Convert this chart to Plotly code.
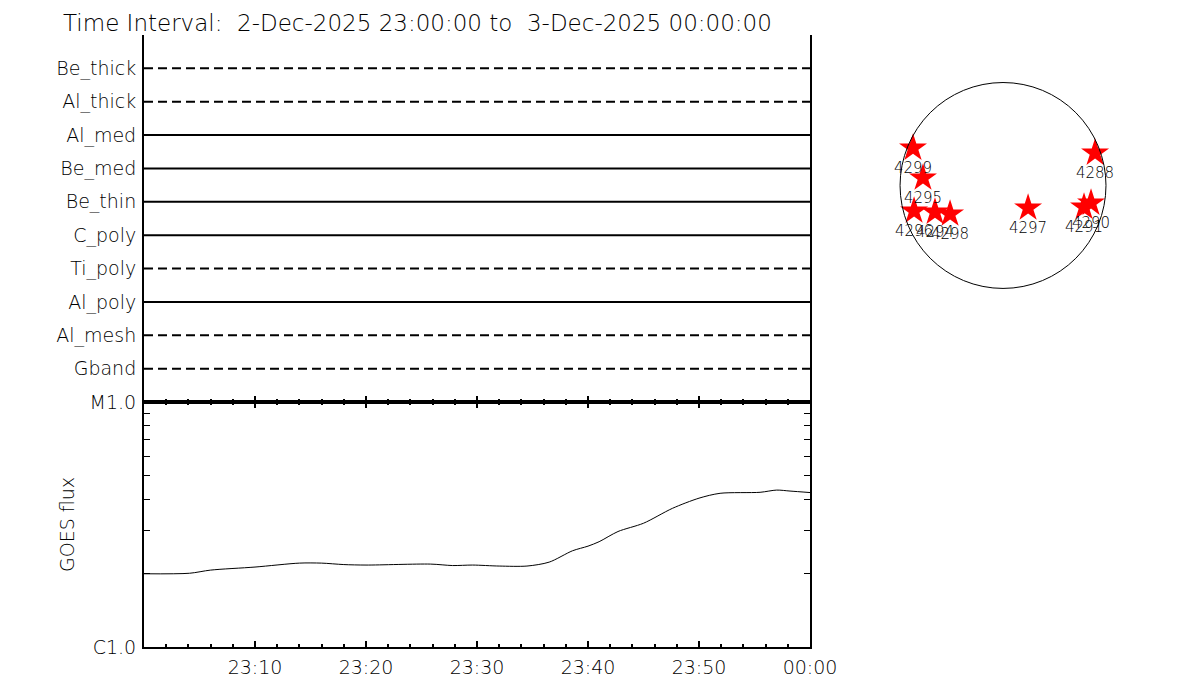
import plotly.graph_objects as go
import pandas as pd

# ---------------- data ----------------
title_text = "Time Interval:  2-Dec-2025 23:00:00 to  3-Dec-2025 00:00:00"
t_start = "2025-12-02 23:00:00"
t_end = "2025-12-03 00:00:00"

channels = ["Be_thick", "Al_thick", "Al_med", "Be_med", "Be_thin",
            "C_poly", "Ti_poly", "Al_poly", "Al_mesh", "Gband"]
channel_dashed = [True, True, False, False, False, False, True, False, True, True]

goes_minutes = [0, 4.1, 6, 10, 14, 16, 18, 20, 25.8, 27.8, 29.6, 32, 34.5, 36.5,
                38.6, 40, 41, 42.7, 45, 47.6, 50, 51.9, 55.5, 57, 58.2, 60]
goes_flux = [1.99e-6, 2.00e-6, 2.06e-6, 2.12e-6, 2.20e-6, 2.20e-6, 2.17e-6, 2.16e-6,
             2.18e-6, 2.15e-6, 2.16e-6, 2.14e-6, 2.14e-6, 2.22e-6, 2.47e-6, 2.58e-6,
             2.69e-6, 2.96e-6, 3.20e-6, 3.68e-6, 4.05e-6, 4.24e-6, 4.28e-6, 4.37e-6,
             4.33e-6, 4.27e-6]

goes_tick_vals = [1e-6, 1e-5]
goes_tick_labels = ["C1.0", "M1.0"]
goes_minor_vals = [2e-6, 3e-6, 4e-6, 5e-6, 6e-6, 7e-6, 8e-6, 9e-6]

time_tick_minutes = [0, 10, 20, 30, 40, 50, 60]
time_tick_labels = ["", "23:10", "23:20", "23:30", "23:40", "23:50", "00:00"]

ar_numbers = ["4299", "4295", "4296", "4294", "4298", "4297", "4288", "4291", "4290"]
ar_x_arcsec = [-848, -754, -838, -641, -499, 236, 867, 763, 829]
ar_y_arcsec = [353, 71, -240, -250, -268, -212, 306, -203, -165]
solar_radius_arcsec = 970

# ---------------- helpers ----------------
t0 = pd.Timestamp(t_start)
def tm(m):
    return t0 + pd.Timedelta(minutes=m)

goes_time = [tm(m) for m in goes_minutes]
xr = [pd.Timestamp(t_start), pd.Timestamp(t_end)]

FONT = "DejaVu Sans"
WEIGHT = 200
fig = go.Figure()

# top panel channel lines
n = len(channels)
ypos = list(range(n, 0, -1))
for name, dashed, yv in zip(channels, channel_dashed, ypos):
    fig.add_trace(go.Scatter(
        x=xr, y=[yv, yv], mode="lines",
        line=dict(color="black", width=2, dash="9px,5px" if dashed else "solid"),
        xaxis="x", yaxis="y", showlegend=False, hoverinfo="skip"))

# GOES curve
fig.add_trace(go.Scatter(
    x=goes_time, y=goes_flux, mode="lines",
    line=dict(color="black", width=1, shape="spline", smoothing=0.8),
    xaxis="x2", yaxis="y2", showlegend=False))

# active regions on the solar disk
fig.add_trace(go.Scatter(
    x=ar_x_arcsec, y=ar_y_arcsec, mode="markers+text",
    marker=dict(symbol="star", size=21, color="red", line=dict(width=0)),
    text=ar_numbers, textposition="bottom center",
    textfont=dict(family=FONT, size=15, color="black", weight=WEIGHT),
    xaxis="x3", yaxis="y3", showlegend=False, cliponaxis=False))

fig.add_shape(type="circle", xref="x3", yref="y3",
              x0=-solar_radius_arcsec, x1=solar_radius_arcsec,
              y0=-solar_radius_arcsec, y1=solar_radius_arcsec,
              line=dict(color="black", width=1))

# page body margin shifts the figure by 8px; lay out in page pixels
W, H = 1200, 700
OFF = 8
def px(v):
    return (v - OFF) / W
def py(v):
    return 1 - (v - OFF) / H

xd = [px(144), px(810)]
yd_top = [py(402), py(35)]
yd_bot = [py(647), py(402)]

minor2 = [tm(m) for m in range(0, 61, 2)]
minor_top = [tm(m * 1.5) for m in range(0, 41)]
major_top = [tm(m * 7.5) for m in range(0, 9)]

tickfont = dict(family=FONT, size=19, color="black", weight=WEIGHT)

fig.update_layout(
    width=W, height=H,
    margin=dict(l=0, r=0, t=0, b=0, pad=0, autoexpand=False),
    paper_bgcolor="white", plot_bgcolor="white",
    showlegend=False,
    xaxis=dict(domain=xd, anchor="y", type="date", range=xr, automargin=False,
               showline=True, linecolor="black", linewidth=2, mirror=False,
               showgrid=False, zeroline=False, side="bottom",
               tickmode="array", tickvals=[tm(m) for m in time_tick_minutes],
               ticks="inside", ticklen=6, tickwidth=2, tickcolor="black",
               showticklabels=False,
               minor=dict(tickmode="array", tickvals=minor2, ticks="inside",
                          ticklen=3, tickwidth=2, tickcolor="black", showgrid=False)),
    xaxis4=dict(overlaying="x", anchor="y", side="top", type="date", range=xr,
                automargin=False,
                showline=True, linecolor="black", linewidth=2,
                showgrid=False, zeroline=False,
                tickmode="array", tickvals=major_top,
                ticks="inside", ticklen=8, tickwidth=2, tickcolor="black",
                showticklabels=False,
                minor=dict(tickmode="array", tickvals=minor_top, ticks="inside",
                           ticklen=4, tickwidth=2, tickcolor="black", showgrid=False)),
    yaxis=dict(domain=yd_top, anchor="x", range=[0, n + 1], automargin=False,
               showline=True, linecolor="black", linewidth=2, mirror=True,
               showgrid=False, zeroline=False,
               tickmode="array", tickvals=ypos, ticktext=channels,
               ticks="", tickfont=tickfont, ticklabelstandoff=2),
    xaxis2=dict(domain=xd, anchor="y2", type="date", range=xr, automargin=False,
                showline=True, linecolor="black", linewidth=2, mirror="ticks",
                showgrid=False, zeroline=False,
                tickmode="array", tickvals=[tm(m) for m in time_tick_minutes],
                ticktext=time_tick_labels,
                ticks="inside", ticklen=6, tickwidth=2, tickcolor="black",
                tickfont=tickfont, ticklabelstandoff=2,
                minor=dict(tickmode="array", tickvals=minor2, ticks="inside",
                           ticklen=3, tickwidth=2, tickcolor="black", showgrid=False)),
    yaxis2=dict(domain=yd_bot, anchor="x2", type="log", range=[-6, -5], automargin=False,
                showline=True, linecolor="black", linewidth=2, mirror="ticks",
                showgrid=False, zeroline=False,
                tickmode="array", tickvals=goes_tick_vals, ticktext=goes_tick_labels,
                ticks="inside", ticklen=6, tickwidth=1, tickcolor="black",
                tickfont=tickfont, ticklabelstandoff=2,
                minor=dict(tickmode="array", tickvals=goes_minor_vals, ticks="inside",
                           ticklen=6, tickwidth=1, tickcolor="black", showgrid=False)),
    xaxis3=dict(domain=[px(880), px(1120)], anchor="y3", range=[-1159, 1102],
                visible=False, automargin=False),
    yaxis3=dict(domain=[py(300), py(70)], anchor="x3", range=[-1079, 1088],
                visible=False, automargin=False),
    annotations=[
        dict(text=title_text, x=px(61), y=1.0, xref="paper", yref="paper",
             xanchor="left", yanchor="top", showarrow=False,
             font=dict(family=FONT, size=23, color="black", weight=WEIGHT)),
        dict(text="GOES flux", x=px(67), y=py(525), xref="paper", yref="paper",
             xanchor="center", yanchor="middle", showarrow=False, textangle=-90,
             font=dict(family=FONT, size=19, color="black", weight=WEIGHT)),
    ],
)

fig.write_html("out.html")
